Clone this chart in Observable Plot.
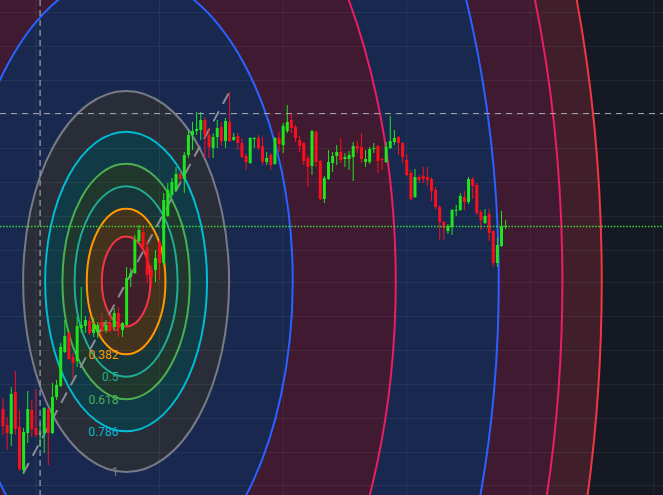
<!DOCTYPE html>
<html>
<head>
<meta charset="utf-8">
<script src="https://cdn.jsdelivr.net/npm/d3@7"></script>
<script src="https://cdn.jsdelivr.net/npm/@observablehq/plot@0.6"></script>
<style>
  html, body { margin: 0; padding: 0; background: #151924; overflow: hidden; }
</style>
</head>
<body>
<div id="chart"></div>
<script>
// ---- Candles (bar index = position in arrays), price in arbitrary units ----
const opens  = [91,75,66,108,73,30,67,90,72,66,67,91,67,103,114,148,167,143,139,172,
                174,179,167,168,177,170,177,173,187,170,175,223,227,259,268,253,230,230,258,237,
                284,305,310,326,321,345,365,369,370,380,365,352,363,373,359,378,360,364,357,344,
                337,361,362,354,338,345,336,362,355,369,380,373,360,357,342,334,368,339,301,321,
                337,344,348,341,341,343,354,353,338,338,351,354,341,338,352,358,363,357,340,327,
                303,323,324,323,321,310,293,278,269,273,289,290,303,298,321,315,288,277,286,269,
                237,254,273];
const highs  = [102,83,113,129,90,72,109,100,111,77,93,92,117,120,157,180,168,147,183,213,
                184,183,182,178,187,180,185,192,193,178,233,232,265,275,275,260,235,250,260,307,
                317,322,333,330,348,370,378,388,388,383,372,367,380,378,382,408,367,367,362,347,
                363,363,365,363,348,347,363,368,377,395,387,375,364,358,345,370,370,340,324,350,
                348,355,362,347,349,358,359,367,350,353,357,355,342,358,384,370,364,358,346,330,
                331,325,333,333,323,313,295,279,276,291,295,307,309,323,323,317,290,291,291,270,
                262,289,280];
const lows   = [65,50,54,65,29,26,57,63,63,53,47,35,66,100,113,147,140,121,133,167,
                167,165,163,162,163,167,167,170,163,163,174,213,226,257,250,217,212,218,220,235,
                283,303,309,317,307,342,350,365,360,342,342,342,352,354,352,358,359,350,342,330,
                336,352,350,335,335,330,335,348,347,367,367,358,348,335,313,325,333,300,297,320,
                328,335,337,333,330,319,347,337,333,336,347,327,330,337,351,355,345,337,324,300,
                302,317,317,314,299,291,260,260,266,265,284,289,290,296,301,285,270,276,259,233,
                233,253,271];
const closes = [74,67,106,71,31,68,91,71,65,67,92,67,103,115,153,164,141,137,174,175,
                180,167,176,175,170,175,170,187,172,177,222,227,260,270,253,225,223,242,237,300,
                310,318,326,321,345,365,369,371,380,365,353,363,372,359,379,359,363,357,343,338,
                362,362,352,338,342,335,362,356,374,378,372,362,354,339,333,369,338,301,322,338,
                344,348,340,343,345,354,351,341,341,351,352,339,340,353,359,362,357,343,325,301,
                323,320,321,320,309,293,278,272,274,290,290,304,298,321,314,287,280,284,267,237,
                255,273,274];

// ---- Fibonacci circles: centre, level-1 radius, levels, colours ----
const fibCenterBar = 30;
const fibCenterPrice = 218.5;
const fibRadiusBars = 25;
const fibRadiusPrice = 190.5;
const fibLevels = [0.236, 0.382, 0.5, 0.618, 0.786, 1, 1.618, 2.618, 3.618, 4.236, 4.618];
const fibColors = ["#f23645", "#ff9800", "#22ab94", "#4caf50", "#00bcd4", "#787b86",
                   "#2962ff", "#e91e63", "#2962ff", "#e91e63", "#f23645"];
const fibLabels = ["0.236", "0.382", "0.5", "0.618", "0.786", "1"];

// trend line joining the two anchor points (bars, prices)
const trendBars = [5, 55];
const trendPrices = [28, 409];

// crosshair & last price
const crossBar = 9;
const crossPrice = 387;
const lastPrice = 274;

// grid
const gridBars = [8, 38, 68, 98, 128, 158];
const gridPrices = [488, 454, 420, 386, 352, 318, 284, 250, 218, 184, 150, 116, 82, 48, 15];

// ---- build tables ----
const candles = opens.map((o, i) => ({
  i, o, h: highs[i], l: lows[i], c: closes[i], up: closes[i] >= o
}));
const trend = trendBars.map((b, k) => ({b, p: trendPrices[k]}));
const labels = fibLabels.map((t, k) => ({
  t, b: fibCenterBar, p: fibCenterPrice - fibLevels[k] * fibRadiusPrice, color: fibColors[k]
}));

const UP = "#1fe51f", DOWN = "#fb0f1c";

function ellipsePath(cx, cy, rx, ry) {
  return `M${cx - rx},${cy}a${rx},${ry} 0 1,0 ${2 * rx},0a${rx},${ry} 0 1,0 ${-2 * rx},0Z`;
}
function fibGeometry(scales) {
  const cx = scales.x(fibCenterBar), cy = scales.y(fibCenterPrice);
  const radii = fibLevels.map(L => [
    Math.abs(scales.x(fibCenterBar + L * fibRadiusBars) - cx),
    Math.abs(scales.y(fibCenterPrice + L * fibRadiusPrice) - cy)
  ]);
  return {cx, cy, radii};
}
function fibFills(index, scales) {
  const {cx, cy, radii} = fibGeometry(scales);
  const g = d3.create("svg:g");
  radii.forEach(([rx, ry], k) => {
    let d = ellipsePath(cx, cy, rx, ry);
    if (k > 0) d += ellipsePath(cx, cy, radii[k - 1][0], radii[k - 1][1]);
    g.append("path").attr("d", d).attr("fill", fibColors[k])
      .attr("fill-opacity", 0.2).attr("fill-rule", "evenodd");
  });
  return g.node();
}
function fibStrokes(index, scales) {
  const {cx, cy, radii} = fibGeometry(scales);
  const g = d3.create("svg:g");
  radii.forEach(([rx, ry], k) => {
    g.append("path").attr("d", ellipsePath(cx, cy, rx, ry)).attr("fill", "none")
      .attr("stroke", fibColors[k]).attr("stroke-width", 2);
  });
  return g.node();
}

const chart = Plot.plot({
  width: 663,
  height: 495,
  margin: 0,
  style: {background: "#151924"},
  x: {domain: [-0.607, 160.317], axis: null},
  y: {domain: [5, 500], axis: null},
  marks: [
    fibFills,
    Plot.ruleX(gridBars, {stroke: "#ffffff", strokeOpacity: 0.06}),
    Plot.ruleY(gridPrices, {stroke: "#ffffff", strokeOpacity: 0.06}),
    fibStrokes,
    Plot.text(labels, {x: "b", y: "p", text: "t", fill: "color", textAnchor: "end", dx: -8,
      fontSize: 12, fontFamily: "Roboto"}),
    Plot.line(trend, {x: "b", y: "p", stroke: "#8a8d96", strokeWidth: 2, strokeDasharray: "10,10"}),
    Plot.ruleX(candles, {x: "i", y1: "l", y2: "h", stroke: d => d.up ? UP : DOWN, strokeWidth: 1}),
    Plot.ruleX(candles, {x: "i", y1: "o", y2: "c", stroke: d => d.up ? UP : DOWN, strokeWidth: 3}),
    Plot.ruleY([lastPrice], {stroke: "#3fd83a", strokeWidth: 1.5, strokeDasharray: "1.5,1.6"}),
    Plot.ruleX([crossBar], {stroke: "#9fa2ab", strokeWidth: 1.2, strokeDasharray: "6,4"}),
    Plot.ruleY([crossPrice], {stroke: "#9fa2ab", strokeWidth: 1.2, strokeDasharray: "6,5"})
  ]
});
document.getElementById("chart").appendChild(chart);
</script>
</body>
</html>
